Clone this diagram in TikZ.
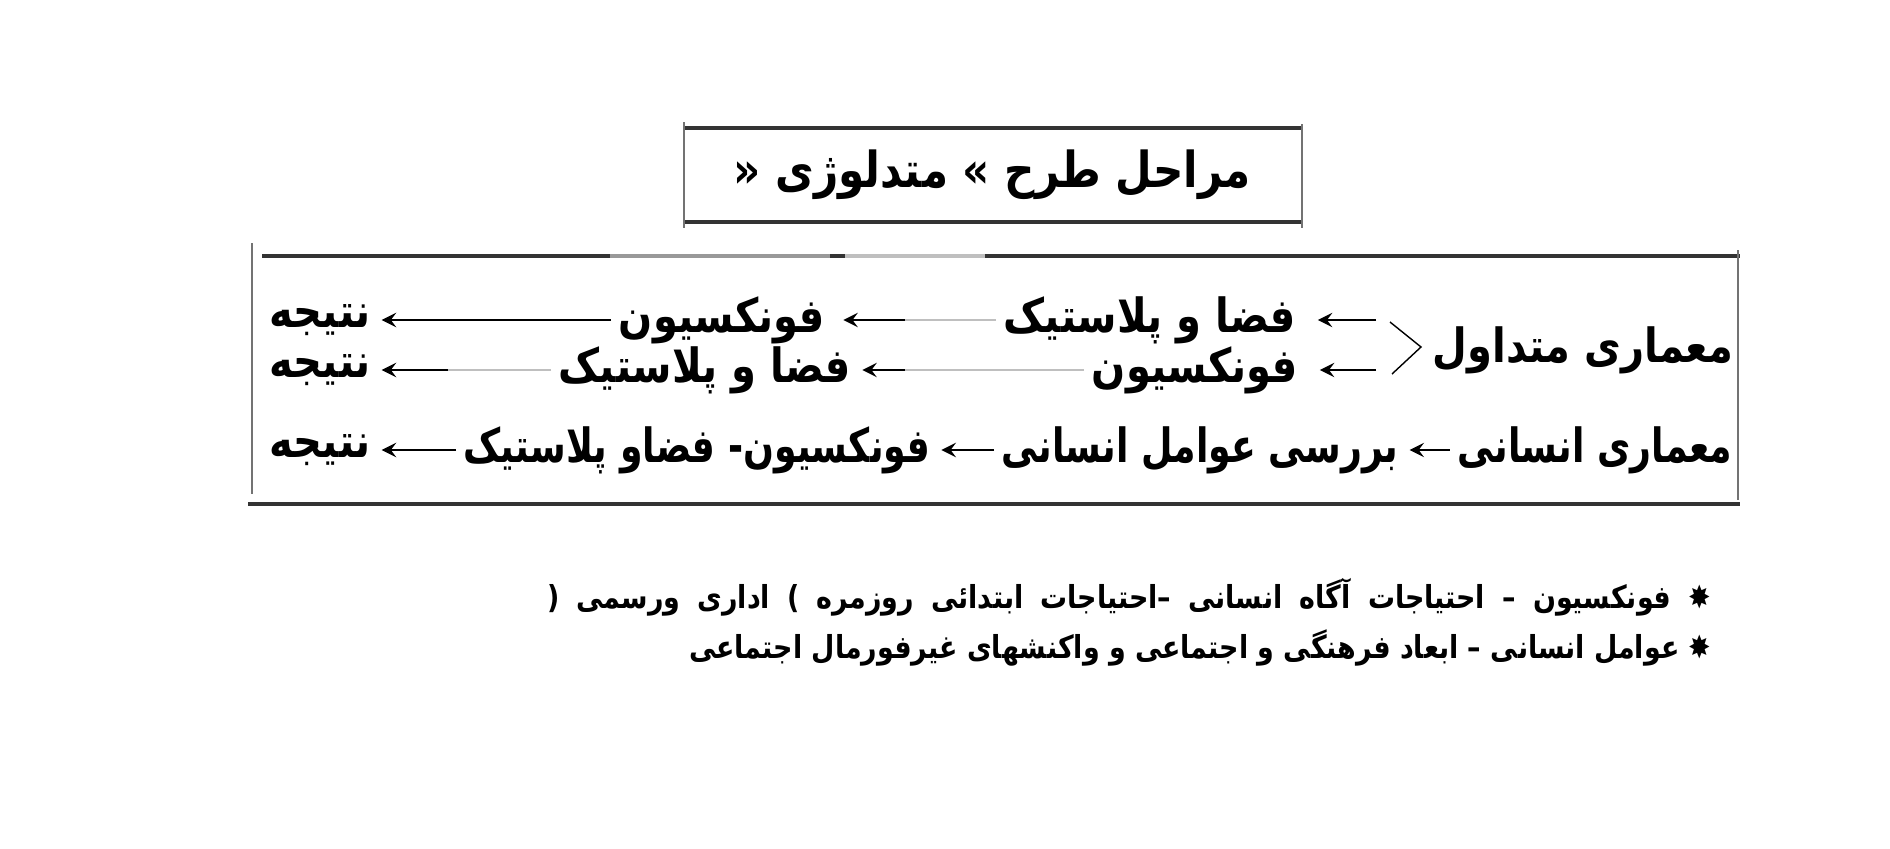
\documentclass[tikz,border=0pt]{standalone}
\usepackage{fontspec}
\usepackage{tikz}
\usetikzlibrary{arrows}
\newfontfamily\arabicfont[Script=Arabic, FakeStretch=0.85]{DejaVu Sans}
\newfontfamily\arabicnarrow[Script=Arabic, FakeStretch=0.77]{DejaVu Sans}
\TeXXeTstate=1
\tikzstyle{fa} = [inner sep=2pt, font=\arabicfont\bfseries\fontsize{13.4}{16}\selectfont]
\tikzstyle{fan} = [inner sep=2pt, font=\arabicnarrow\bfseries\fontsize{13.4}{16}\selectfont]
\tikzstyle{title} = [inner sep=2pt, font=\arabicfont\bfseries\fontsize{14.1}{17}\selectfont]
\tikzstyle{note} = [inner sep=0pt, anchor=east, font=\arabicfont\bfseries\fontsize{9}{11}\selectfont]
\tikzstyle{arrow} = [thick,->,>=stealth, shorten >=1pt]
\tikzstyle{pale} = [thick, black!25]
\tikzstyle{rule} = [line width=1.2pt, black!80]
\tikzstyle{side} = [line width=0.6pt, black!55]

\begin{document}
\begin{tikzpicture}[x=0.01cm, y=-0.01cm]
   \useasboundingbox (0,0) rectangle (1890,848);
   % title box
   \node (tt) [title] at (992,175) {\beginR مراحل طرح » متدلوژی «\endR};
   \draw [rule] (685,128) -- (1302,128);
   \draw [rule] (685,222) -- (1302,222);
   \draw [side] (684,122) -- (684,228);
   \draw [side] (1302,124) -- (1302,228);
   % main box
   \draw [rule] (262,256) -- (1740,256);
   \draw [rule, black!40] (610,256) -- (830,256);
   \draw [rule, black!25] (845,256) -- (985,256);
   \draw [rule] (248,504) -- (1740,504);
   \draw [side] (252,243) -- (252,494);
   \draw [side] (1738,250) -- (1738,500);
   % first branch
   \node (mt) [fa] at (1583,350) {\beginR معماری متداول\endR};
   \node (fp1) [fa] at (1150,320) {\beginR فضا و پلاستیک\endR};
   \node (fn1) [fa] at (722,320) {\beginR فونکسیون\endR};
   \node (nt1) [fa] at (320,320) {\beginR نتیجه\endR};
   \node (fn2) [fa] at (1195,370) {\beginR فونکسیون\endR};
   \node (fp2) [fa] at (705,370) {\beginR فضا و پلاستیک\endR};
   \node (nt2) [fa] at (320,370) {\beginR نتیجه\endR};
   \coordinate (br) at (1421,347);
   \coordinate (brt) at (1390,322);
   \coordinate (brb) at (1392,374);
   \draw [thin] (brt) -- (br) -- (brb);
   \draw [arrow, shorten >=4pt] (1376,320) -- (fp1);
   \draw [arrow, shorten >=4pt] (1376,370) -- (fn2);
   \coordinate (m1) at (905,320);
   \draw [pale] (fp1) -- (m1);
   \draw [arrow, shorten >=3pt] (m1) -- (fn1);
   \draw [arrow] (fn1) -- (nt1);
   \coordinate (m2) at (905,370);
   \draw [pale] (fn2) -- (m2);
   \draw [arrow] (m2) -- (fp2);
   \coordinate (m3) at (448,370);
   \draw [pale] (fp2) -- (m3);
   \draw [arrow] (m3) -- (nt2);
   % second branch
   \node (ma) [fan] at (1595,450) {\beginR معماری انسانی\endR};
   \node (ba) [fan] at (1200,450) {\beginR بررسی عوامل انسانی\endR};
   \node (ff) [fan] at (697,450) {\beginR فونکسیون- فضاو پلاستیک\endR};
   \node (nt3) [fa] at (320,450) {\beginR نتیجه\endR};
   \draw [arrow] (ma) -- (ba);
   \draw [arrow] (ba) -- (ff);
   \draw [arrow] (ff) -- (nt3);
   % notes
   \node (n1) [note] at (1712,597) {\spaceskip=4.9pt\relax\beginR ✸ فونکسیون – احتیاجات آگاه انسانی –احتیاجات ابتدائی روزمره ) اداری ورسمی (\endR};
   \node (n2) [note] at (1712,648) {\beginR ✸ عوامل انسانی – ابعاد فرهنگی و اجتماعی و واکنشهای غیرفورمال اجتماعی\endR};
\end{tikzpicture}
\end{document}
